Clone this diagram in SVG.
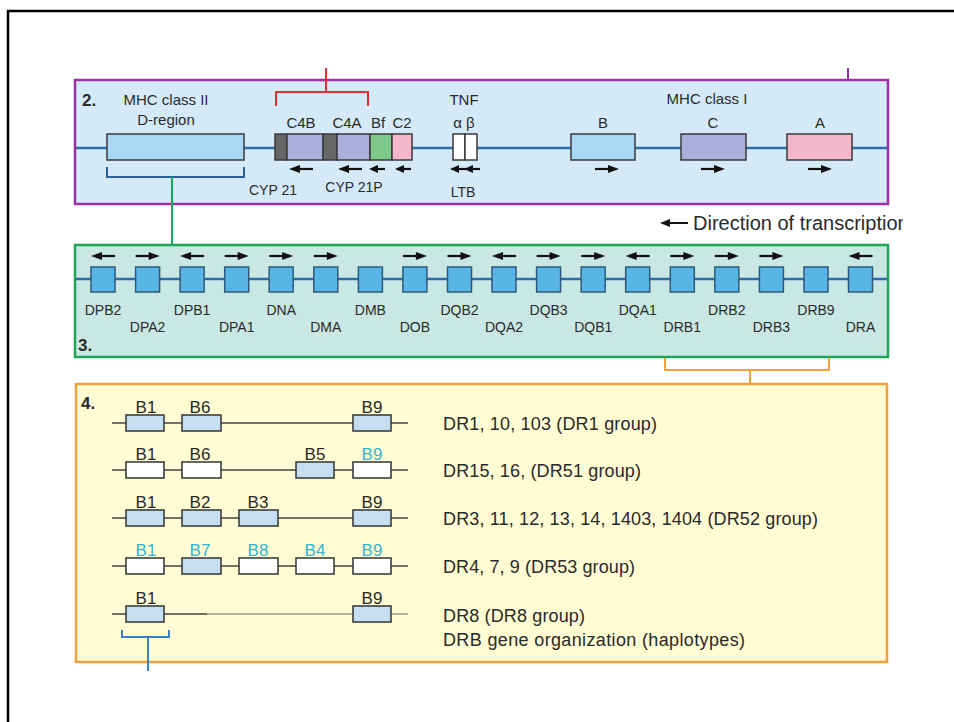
<svg xmlns="http://www.w3.org/2000/svg" xmlns:xlink="http://www.w3.org/1999/xlink" width="954" height="722" viewBox="0 0 954 722">
<style>
text{font-family:"Liberation Sans",Arial,sans-serif;fill:#2a2a2a}
.t15{font-size:15px;text-anchor:middle}
.t14{font-size:14px;text-anchor:middle}
.t17{font-size:17px;text-anchor:middle}
.num{font-size:17px;font-weight:bold}
.rt{font-size:18px}
.cy{fill:#35b3d2}
.gl{stroke:#2c6da6;stroke-width:2.5;fill:none}
.gb{stroke:#3a3a3a;stroke-width:1.5}
.b3{fill:#58b6e6;stroke:#2d5a7a;stroke-width:1.5}
.b4{fill:#c6def1;stroke:#333;stroke-width:1.5}
.w4{fill:#ffffff;stroke:#333;stroke-width:1.5}
.l4{stroke:#444;stroke-width:1.5}
</style>
<defs>
<g id="ar"><line x1="-12" y1="0" x2="2" y2="0" stroke="#111" stroke-width="2.2"/><polygon points="1,-4 12,0 1,4" fill="#111"/></g>
<g id="arS"><line x1="-8" y1="0" x2="0" y2="0" stroke="#111" stroke-width="2.2"/><polygon points="-1,-4 8,0 -1,4" fill="#111"/></g>
<clipPath id="clipDir"><rect x="640" y="205" width="263" height="35"/></clipPath>
</defs>

<g id="frame">
<polyline points="8,722 8,11 954,11" fill="none" stroke="#000" stroke-width="2.5"/>
</g>

<g id="panel2">
<rect x="75" y="80" width="813" height="124" fill="#d4eaf8" stroke="#9b2fa0" stroke-width="2.5"/>
<line class="gl" x1="76" y1="148" x2="887" y2="148"/>
<text class="num" x="82" y="106">2.</text>
</g>

<g id="mhc2">
<rect class="gb" x="107" y="134" width="137" height="26" fill="#a9d7f4"/>
<text class="t15" x="166" y="105">MHC class II</text>
<text class="t15" x="166" y="125">D-region</text>
</g>

<g id="c4complex">
<rect class="gb" x="275" y="134" width="12" height="26" fill="#666"/>
<rect class="gb" x="287" y="134" width="36" height="26" fill="#aaaedb"/>
<rect class="gb" x="323" y="134" width="14" height="26" fill="#666"/>
<rect class="gb" x="337" y="134" width="33" height="26" fill="#aaaedb"/>
<rect class="gb" x="370" y="134" width="22" height="26" fill="#7ec98a"/>
<rect class="gb" x="392" y="134" width="20" height="26" fill="#f5b6cc"/>
<text class="t15" x="301" y="128">C4B</text>
<text class="t15" x="347" y="128">C4A</text>
<text class="t15" x="378" y="128">Bf</text>
<text class="t15" x="402" y="128">C2</text>
<use xlink:href="#ar" transform="translate(301,169) scale(-1,1)"/>
<use xlink:href="#ar" transform="translate(350,169) scale(-1,1)"/>
<use xlink:href="#arS" transform="translate(377,169) scale(-1,1)"/>
<use xlink:href="#arS" transform="translate(403,169) scale(-1,1)"/>
<text class="t14" x="273" y="195">CYP 21</text>
<text class="t14" x="354" y="192">CYP 21P</text>
</g>

<g id="tnf">
<rect class="gb" x="453" y="134" width="12" height="26" fill="#fff"/>
<rect class="gb" x="465" y="134" width="12" height="26" fill="#fff"/>
<text class="t15" x="464" y="105">TNF</text>
<text class="t15" x="464" y="128">α β</text>
<use xlink:href="#arS" transform="translate(458,169) scale(-1,1)"/>
<use xlink:href="#arS" transform="translate(472,169) scale(-1,1)"/>
<text class="t14" x="463" y="197">LTB</text>
</g>

<g id="mhc1">
<text class="t15" x="707" y="104">MHC class I</text>
<rect class="gb" x="571" y="134" width="64" height="26" fill="#a9d7f4"/>
<rect class="gb" x="681" y="134" width="65" height="26" fill="#aaaedb"/>
<rect class="gb" x="787" y="134" width="65" height="26" fill="#f5b6cc"/>
<text class="t15" x="603" y="128">B</text>
<text class="t15" x="713" y="128">C</text>
<text class="t15" x="820" y="128">A</text>
<use xlink:href="#ar" transform="translate(607,169)"/>
<use xlink:href="#ar" transform="translate(713,169)"/>
<use xlink:href="#ar" transform="translate(820,169)"/>
</g>

<g id="legend">
<line x1="668" y1="223" x2="688" y2="223" stroke="#111" stroke-width="2"/>
<polygon points="660,223 670,219 670,227" fill="#111"/>
<text x="693" y="230" font-size="20" clip-path="url(#clipDir)">Direction of transcription</text>
</g>

<g id="panel3">
<rect x="75" y="245" width="813" height="112" fill="#c9e7e3" stroke="#1fa55a" stroke-width="2.5"/>
<line class="gl" x1="76" y1="279" x2="887" y2="279"/>
<text class="num" x="78" y="351">3.</text>
</g>

<g id="dgenes">
<rect class="b3" x="91" y="267" width="24" height="25"/>
<rect class="b3" x="135.6" y="267" width="24" height="25"/>
<rect class="b3" x="180.1" y="267" width="24" height="25"/>
<rect class="b3" x="224.7" y="267" width="24" height="25"/>
<rect class="b3" x="269.2" y="267" width="24" height="25"/>
<rect class="b3" x="313.8" y="267" width="24" height="25"/>
<rect class="b3" x="358.4" y="267" width="24" height="25"/>
<rect class="b3" x="402.9" y="267" width="24" height="25"/>
<rect class="b3" x="447.5" y="267" width="24" height="25"/>
<rect class="b3" x="492" y="267" width="24" height="25"/>
<rect class="b3" x="536.6" y="267" width="24" height="25"/>
<rect class="b3" x="581.2" y="267" width="24" height="25"/>
<rect class="b3" x="625.7" y="267" width="24" height="25"/>
<rect class="b3" x="670.3" y="267" width="24" height="25"/>
<rect class="b3" x="714.8" y="267" width="24" height="25"/>
<rect class="b3" x="759.4" y="267" width="24" height="25"/>
<rect class="b3" x="804" y="267" width="24" height="25"/>
<rect class="b3" x="848.5" y="267" width="24" height="25"/>
<use xlink:href="#ar" transform="translate(103,256) scale(-1,1)"/>
<use xlink:href="#ar" transform="translate(147.6,256)"/>
<use xlink:href="#ar" transform="translate(192.1,256) scale(-1,1)"/>
<use xlink:href="#ar" transform="translate(236.7,256)"/>
<use xlink:href="#ar" transform="translate(281.2,256)"/>
<use xlink:href="#ar" transform="translate(325.8,256)"/>
<use xlink:href="#ar" transform="translate(414.9,256)"/>
<use xlink:href="#ar" transform="translate(459.5,256)"/>
<use xlink:href="#ar" transform="translate(504,256) scale(-1,1)"/>
<use xlink:href="#ar" transform="translate(548.6,256)"/>
<use xlink:href="#ar" transform="translate(593.2,256)"/>
<use xlink:href="#ar" transform="translate(637.7,256) scale(-1,1)"/>
<use xlink:href="#ar" transform="translate(682.3,256)"/>
<use xlink:href="#ar" transform="translate(726.8,256)"/>
<use xlink:href="#ar" transform="translate(771.4,256)"/>
<use xlink:href="#ar" transform="translate(860.5,256) scale(-1,1)"/>
<text class="t14" x="103" y="315">DPB2</text>
<text class="t14" x="147.6" y="332">DPA2</text>
<text class="t14" x="192.1" y="315">DPB1</text>
<text class="t14" x="236.7" y="332">DPA1</text>
<text class="t14" x="281.2" y="315">DNA</text>
<text class="t14" x="325.8" y="332">DMA</text>
<text class="t14" x="370.4" y="315">DMB</text>
<text class="t14" x="414.9" y="332">DOB</text>
<text class="t14" x="459.5" y="315">DQB2</text>
<text class="t14" x="504" y="332">DQA2</text>
<text class="t14" x="548.6" y="315">DQB3</text>
<text class="t14" x="593.2" y="332">DQB1</text>
<text class="t14" x="637.7" y="315">DQA1</text>
<text class="t14" x="682.3" y="332">DRB1</text>
<text class="t14" x="726.8" y="315">DRB2</text>
<text class="t14" x="771.4" y="332">DRB3</text>
<text class="t14" x="816" y="315">DRB9</text>
<text class="t14" x="860.5" y="332">DRA</text>
</g>

<g id="panel4">
<rect x="76" y="384" width="811" height="278" fill="#fffbd2" stroke="#f0a03c" stroke-width="2.5"/>
<text class="num" x="81" y="409">4.</text>
</g>

<g id="row1">
<line class="l4" x1="112" y1="423" x2="408" y2="423"/>
<rect class="b4" x="126" y="415" width="38" height="16"/>
<rect class="b4" x="182" y="415" width="39" height="16"/>
<rect class="b4" x="353" y="415" width="38" height="16"/>
<text class="t17" x="146" y="413">B1</text>
<text class="t17" x="200" y="413">B6</text>
<text class="t17" x="372" y="413">B9</text>
<text class="rt" x="443" y="430" textLength="214">DR1, 10, 103 (DR1 group)</text>
</g>

<g id="row2">
<line class="l4" x1="112" y1="470" x2="408" y2="470"/>
<rect class="w4" x="126" y="462" width="38" height="16"/>
<rect class="w4" x="182" y="462" width="39" height="16"/>
<rect class="b4" x="296" y="462" width="38" height="16"/>
<rect class="w4" x="353" y="462" width="38" height="16"/>
<text class="t17" x="146" y="460">B1</text>
<text class="t17" x="200" y="460">B6</text>
<text class="t17" x="315" y="460">B5</text>
<text class="t17 cy" x="372" y="460">B9</text>
<text class="rt" x="443" y="477" textLength="198">DR15, 16, (DR51 group)</text>
</g>

<g id="row3">
<line class="l4" x1="112" y1="518" x2="408" y2="518"/>
<rect class="b4" x="126" y="510" width="38" height="16"/>
<rect class="b4" x="182" y="510" width="39" height="16"/>
<rect class="b4" x="239" y="510" width="39" height="16"/>
<rect class="b4" x="353" y="510" width="38" height="16"/>
<text class="t17" x="146" y="508">B1</text>
<text class="t17" x="200" y="508">B2</text>
<text class="t17" x="258" y="508">B3</text>
<text class="t17" x="372" y="508">B9</text>
<text class="rt" x="443" y="525" textLength="375">DR3, 11, 12, 13, 14, 1403, 1404 (DR52 group)</text>
</g>

<g id="row4">
<line class="l4" x1="112" y1="566" x2="408" y2="566"/>
<rect class="w4" x="126" y="558" width="38" height="16"/>
<rect class="b4" x="182" y="558" width="39" height="16"/>
<rect class="w4" x="239" y="558" width="39" height="16"/>
<rect class="w4" x="296" y="558" width="38" height="16"/>
<rect class="w4" x="353" y="558" width="38" height="16"/>
<text class="t17 cy" x="146" y="556">B1</text>
<text class="t17 cy" x="200" y="556">B7</text>
<text class="t17 cy" x="258" y="556">B8</text>
<text class="t17 cy" x="315" y="556">B4</text>
<text class="t17 cy" x="372" y="556">B9</text>
<text class="rt" x="443" y="573" textLength="192">DR4, 7, 9 (DR53 group)</text>
</g>

<g id="row5">
<line class="l4" x1="112" y1="614" x2="207" y2="614"/>
<line x1="207" y1="614" x2="408" y2="614" stroke="#9a9a8a" stroke-width="1.5"/>
<rect class="b4" x="126" y="606" width="38" height="16"/>
<rect class="b4" x="353" y="606" width="38" height="16"/>
<text class="t17" x="146" y="604">B1</text>
<text class="t17" x="372" y="604">B9</text>
<text class="rt" x="443" y="622" textLength="142">DR8 (DR8 group)</text>
<text class="rt" x="443" y="646" textLength="302">DRB gene organization (haplotypes)</text>
</g>

<g id="connectors">
<line x1="326" y1="68" x2="326" y2="92" stroke="#e03030" stroke-width="2"/>
<polyline points="276,106 276,92 368,92 368,106" fill="none" stroke="#e03030" stroke-width="2"/>
<line x1="848" y1="68" x2="848" y2="80" stroke="#9b2fa0" stroke-width="2"/>
<polyline points="107,167 107,177 244,177 244,167" fill="none" stroke="#2a5f9e" stroke-width="2"/>
<line x1="172" y1="177" x2="172" y2="244" stroke="#1aa85a" stroke-width="2"/>
<polyline points="665,358 665,370 829,370 829,358" fill="none" stroke="#f0a03c" stroke-width="2"/>
<line x1="750" y1="370" x2="750" y2="383" stroke="#f0a03c" stroke-width="2"/>
<polyline points="122,630 122,637 169,637 169,630" fill="none" stroke="#3a7fc0" stroke-width="2"/>
<line x1="148" y1="637" x2="148" y2="671" stroke="#3a7fc0" stroke-width="2"/>
</g>
</svg>
